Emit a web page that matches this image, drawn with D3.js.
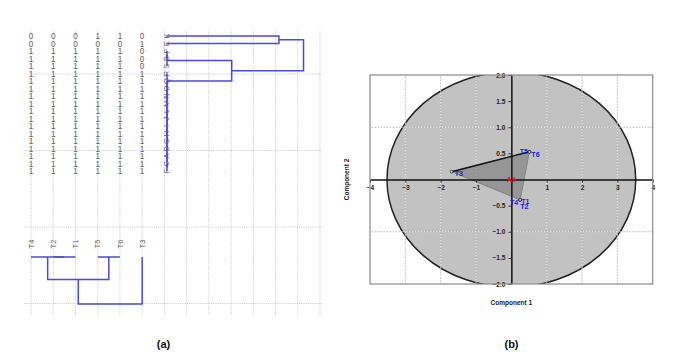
<!DOCTYPE html>
<html>
<head>
<meta charset="utf-8">
<script src="https://cdn.jsdelivr.net/npm/d3@7"></script>
<style>
  body { margin: 0; background: #fff; }
  svg { display: block; font-family: "Liberation Sans", Arial, sans-serif; }
</style>
</head>
<body>
<div id="viz"></div>
<script>
// ---- data ----
const rowNames = ['K', 'E', 'P', 'B', 'S', 'R', 'Q', 'O', 'N', 'M', 'L', 'J', 'I', 'H', 'G', 'D', 'A', 'C', 'F'];
const traits = ['T4', 'T2', 'T1', 'T5', 'T6', 'T3'];
const binaryRows = [
  [0, 0, 0, 1, 1, 0],
  [0, 0, 0, 0, 0, 1],
  [1, 1, 1, 1, 1, 0],
  [1, 1, 1, 1, 1, 0],
  [1, 1, 1, 1, 1, 0],
  [1, 1, 1, 1, 1, 1], [1, 1, 1, 1, 1, 1], [1, 1, 1, 1, 1, 1], [1, 1, 1, 1, 1, 1],
  [1, 1, 1, 1, 1, 1], [1, 1, 1, 1, 1, 1], [1, 1, 1, 1, 1, 1], [1, 1, 1, 1, 1, 1],
  [1, 1, 1, 1, 1, 1], [1, 1, 1, 1, 1, 1], [1, 1, 1, 1, 1, 1], [1, 1, 1, 1, 1, 1],
  [1, 1, 1, 1, 1, 1], [1, 1, 1, 1, 1, 1]
];
// dendrogram merges: [height, left, right]
const tailChain = rowNames.slice(5).reduceRight((acc, n) => acc === null ? n : [0, n, acc], null);
const rowTree = [2.11, [1.73, 'K', 'E'], [1.0, [0, [0, 'P', 'B'], 'S'], tailChain]];
const colTree = [2.09, [1.0, [0, 'T4', [0, 'T2', 'T1']], [0, 'T5', 'T6']], 'T3'];

// PCA scores
const pcaNames = ['T1', 'T2', 'T3', 'T4', 'T5', 'T6'];
const pc1 = [0.25, 0.25, -1.69, 0.25, 0.51, 0.51];
const pc2 = [-0.39, -0.39, 0.15, -0.39, 0.53, 0.53];
const hullOrder = ['T3', 'T6', 'T1'];
const xTicksB = [-4, -3, -2, -1, 1, 2, 3, 4];
const yTicksB = [-2, -1.5, -1, -0.5, 0.5, 1, 1.5, 2];
const ellipseRadii = [3.52, 2.06];

// label offsets for the PCA points (dx, dy, anchor)
const labelPos = {
  T1: [1, 4.5, 'start'], T2: [0, 9.5, 'start'], T3: [3, 4.5, 'start'],
  T4: [-2, 5, 'end'], T5: [-1.5, 2.5, 'end'], T6: [2, 5.5, 'start']
};

const width = 685, height = 352;
const svg = d3.select('#viz').append('svg')
  .attr('width', width)
  .attr('height', height);

svg.append('rect').attr('width', width).attr('height', height).attr('fill', '#fff');

// ================= panel (a) =================
const gridX = d3.scaleLinear().domain([0, 13]).range([31, 320]);
const gridY = d3.scaleLinear().domain([0, 3]).range([74, 303.5]);
const colX = t => gridX(traits.indexOf(t));
const rowY = d3.scaleLinear().domain([0, rowNames.length - 1]).range([36, 171]);
const hx = d3.scaleLinear().domain([0, 1]).range([167, 231.7]);
const hy = d3.scaleLinear().domain([0, 1]).range([257, 279.5]);

const gridA = svg.append('g').attr('stroke', '#c4c4c4').attr('stroke-width', 0.8).attr('stroke-dasharray', '1.2,1');
gridA.selectAll('.vx').data(d3.range(14)).enter().append('line')
  .attr('x1', d => gridX(d)).attr('x2', d => gridX(d))
  .attr('y1', 30).attr('y2', 315);
gridA.selectAll('.hy').data(d3.range(4)).enter().append('line')
  .attr('x1', 24).attr('x2', 323)
  .attr('y1', d => gridY(d)).attr('y2', d => gridY(d));

// binary matrix
const matrix = svg.append('g')
  .attr('font-size', 8.2).attr('fill', '#666').attr('text-anchor', 'middle');
binaryRows.forEach((row, i) => {
  matrix.selectAll(null).data(row).enter().append('text')
    .attr('x', (d, j) => colX(traits[j]))
    .attr('y', rowY(i) + 3)
    .text(d => d);
});

// row names (rotated)
svg.append('g').selectAll('text').data(rowNames).enter().append('text')
  .attr('transform', (d, i) => `translate(${gridX(6) + 1.5},${rowY(i)}) rotate(-90)`)
  .attr('text-anchor', 'middle').attr('dy', '0.35em')
  .attr('font-size', 7.5).attr('fill', '#666')
  .text(d => d);

// column names (rotated)
svg.append('g').selectAll('text').data(traits).enter().append('text')
  .attr('transform', d => `translate(${colX(d)},244) rotate(-90)`)
  .attr('text-anchor', 'middle').attr('dy', '0.35em')
  .attr('font-size', 7.5).attr('fill', '#666')
  .text(d => d);

// dendrogram helper: returns {pos, h} and pushes segments
function layoutTree(node, leafPos, segs) {
  if (typeof node === 'string') return { pos: leafPos(node), h: 0 };
  const a = layoutTree(node[1], leafPos, segs);
  const b = layoutTree(node[2], leafPos, segs);
  segs.push({ a, b, h: node[0] });
  return { pos: (a.pos + b.pos) / 2, h: node[0] };
}

const rowSegs = [];
layoutTree(rowTree, n => rowY(rowNames.indexOf(n)), rowSegs);
svg.append('g').selectAll('path').data(rowSegs).enter().append('path')
  .attr('d', s => `M${hx(s.a.h)},${s.a.pos}H${hx(s.h)}V${s.b.pos}H${hx(s.b.h)}`)
  .attr('fill', 'none').attr('stroke', '#4a4ade').attr('stroke-width', 1.5);

const colSegs = [];
layoutTree(colTree, colX, colSegs);
svg.append('g').selectAll('path').data(colSegs).enter().append('path')
  .attr('d', s => `M${s.a.pos},${hy(s.a.h)}V${hy(s.h)}H${s.b.pos}V${hy(s.b.h)}`)
  .attr('fill', 'none').attr('stroke', '#4a4ade').attr('stroke-width', 1.5);

// ================= panel (b) =================
const x = d3.scaleLinear().domain([-4, 4]).range([370, 652.7]);
const y = d3.scaleLinear().domain([-2, 2]).range([284, 75]);

svg.append('clipPath').attr('id', 'plotClip').append('rect')
  .attr('x', x(-4)).attr('y', y(2)).attr('width', x(4) - x(-4)).attr('height', y(-2) - y(2));

svg.append('ellipse')
  .attr('clip-path', 'url(#plotClip)')
  .attr('cx', x(0)).attr('cy', y(0))
  .attr('rx', x(ellipseRadii[0]) - x(0)).attr('ry', y(0) - y(ellipseRadii[1]))
  .attr('fill', '#c2c2c2').attr('stroke', '#222').attr('stroke-width', 1.5);

// gridlines (alternating white/grey dashes)
const gridB = svg.append('g');
const gxVals = [-3, -2, -1, 1, 2, 3];
const gyVals = [-1, 1];
[['#f4f4f4', 0], ['#ababab', 1.5]].forEach(([c, off]) => {
  gridB.selectAll(null).data(gxVals).enter().append('line')
    .attr('x1', d => x(d)).attr('x2', d => x(d)).attr('y1', y(2)).attr('y2', y(-2))
    .attr('stroke', c).attr('stroke-width', 0.8).attr('stroke-dasharray', '1.5,1.5').attr('stroke-dashoffset', off);
  gridB.selectAll(null).data(gyVals).enter().append('line')
    .attr('x1', x(-4)).attr('x2', x(4)).attr('y1', d => y(d)).attr('y2', d => y(d))
    .attr('stroke', c).attr('stroke-width', 0.8).attr('stroke-dasharray', '1.5,1.5').attr('stroke-dashoffset', off);
});

// hull triangle
const pt = n => [x(pc1[pcaNames.indexOf(n)]), y(pc2[pcaNames.indexOf(n)])];
const hull = hullOrder.map(pt);
svg.append('path')
  .attr('d', 'M' + hull.join('L') + 'Z')
  .attr('fill', '#6a6a6a').attr('fill-opacity', 0.5)
  .attr('stroke', '#858585').attr('stroke-width', 1);
svg.append('line')
  .attr('x1', hull[0][0]).attr('y1', hull[0][1]).attr('x2', hull[1][0]).attr('y2', hull[1][1])
  .attr('stroke', '#111').attr('stroke-width', 1.5);

// axes through the origin
const xAxis = svg.append('g')
  .attr('transform', `translate(0,${y(0)})`)
  .call(d3.axisBottom(x).tickValues(xTicksB).tickFormat(d3.format('d')).tickSize(3).tickSizeOuter(0));
const yAxis = svg.append('g')
  .attr('transform', `translate(${x(0)},0)`)
  .call(d3.axisLeft(y).tickValues(yTicksB).tickFormat(d3.format('.1f')).tickSize(3).tickSizeOuter(0));
[xAxis, yAxis].forEach(g => {
  g.select('.domain').attr('stroke', '#111').attr('stroke-width', 1.5);
  g.selectAll('.tick line').attr('stroke', '#333');
  g.selectAll('.tick text')
    .attr('font-size', 6.5).attr('font-weight', 'bold').attr('fill', '#222')
    .attr('font-family', '"Liberation Sans", Arial, sans-serif');
});

// border
svg.append('rect')
  .attr('x', x(-4)).attr('y', y(2)).attr('width', x(4) - x(-4)).attr('height', y(-2) - y(2))
  .attr('fill', 'none').attr('stroke', '#8a8a8a').attr('stroke-width', 1.2);

// points and labels
svg.append('g').selectAll('circle').data(pcaNames).enter().append('circle')
  .attr('cx', d => pt(d)[0]).attr('cy', d => pt(d)[1]).attr('r', 1.4)
  .attr('fill', '#ddd').attr('stroke', '#222').attr('stroke-width', 0.8);
svg.append('g').selectAll('text').data(pcaNames).enter().append('text')
  .attr('x', d => pt(d)[0] + labelPos[d][0])
  .attr('y', d => pt(d)[1] + labelPos[d][1])
  .attr('text-anchor', d => labelPos[d][2])
  .attr('font-size', 7).attr('font-weight', 'bold').attr('fill', '#1a1aff')
  .text(d => d);

svg.append('text')
  .attr('x', x(0)).attr('y', y(0) + 2.5)
  .attr('text-anchor', 'middle').attr('font-size', 7).attr('font-weight', 'bold').attr('fill', '#e01818')
  .text('All');

// axis titles
svg.append('text')
  .attr('x', x(0)).attr('y', 305)
  .attr('text-anchor', 'middle').attr('font-size', 6.5).attr('font-weight', 'bold').attr('fill', '#222')
  .text('Component 1');
svg.append('text')
  .attr('transform', `translate(349,${(y(2) + y(-2)) / 2}) rotate(-90)`)
  .attr('text-anchor', 'middle').attr('font-size', 6.5).attr('font-weight', 'bold').attr('fill', '#222')
  .text('Component 2');

// panel labels
svg.append('text')
  .attr('x', 163.5).attr('y', 348)
  .attr('text-anchor', 'middle').attr('font-size', 11).attr('font-weight', 'bold').attr('fill', '#111')
  .text('(a)');
svg.append('text')
  .attr('x', 511.5).attr('y', 348)
  .attr('text-anchor', 'middle').attr('font-size', 11).attr('font-weight', 'bold').attr('fill', '#111')
  .text('(b)');
</script>
</body>
</html>
